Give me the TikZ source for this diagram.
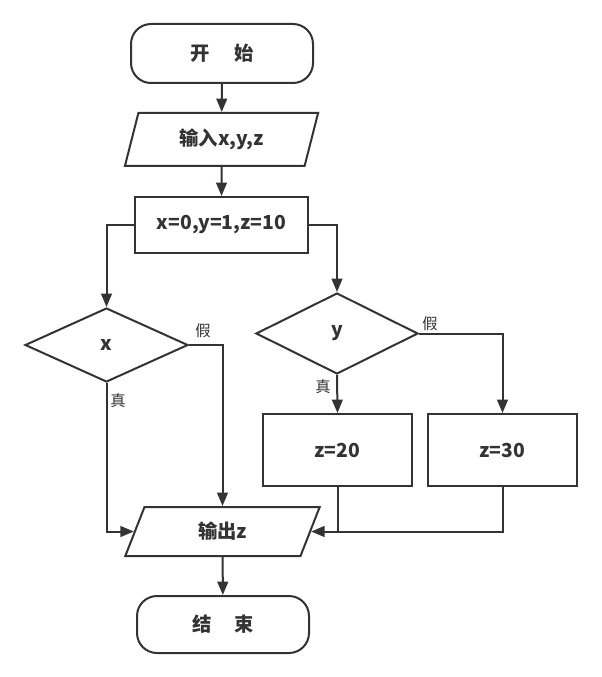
\documentclass[tikz,border=0pt]{standalone}
\usepackage{fontspec}
\setmainfont{Noto Sans CJK SC}
\usetikzlibrary{positioning,arrows.meta,shapes.geometric}
\definecolor{inkgray}{HTML}{333333}
\tikzset{
  flowarrow/.style={-{Triangle[length=10pt, width=8pt]}, line width=1.5pt, inkgray},
  flowline/.style={line width=1.5pt, inkgray},
  termnode/.style={draw=inkgray, line width=1.5pt, rounded corners=15pt, minimum width=136.5pt, minimum height=44.25pt, align=center, text=inkgray, font=\fontsize{14.5}{16}\selectfont\bfseries},
  ionode/.style={draw=inkgray, line width=1.5pt, trapezium, trapezium left angle=72, trapezium right angle=108, trapezium stretches=true, inner sep=0pt, minimum width=145pt, minimum height=39.75pt, align=center, text=inkgray, font=\fontsize{14.5}{16}\selectfont\bfseries},
  procnode/.style={draw=inkgray, line width=1.5pt, minimum width=111.75pt, minimum height=54pt, align=center, text=inkgray, font=\fontsize{14.5}{16}\selectfont\bfseries},
  decnode/.style={draw=inkgray, line width=1.5pt, diamond, inner sep=0pt, minimum width=122.25pt, minimum height=55.5pt, align=center, text=inkgray, font=\fontsize{14.5}{16}\selectfont\bfseries},
  branchlabel/.style={text=inkgray, inner sep=0pt, font=\fontsize{11.5}{12}\selectfont}
}
\begin{document}
\begin{tikzpicture}[x=0.75pt, y=-0.75pt]
  \useasboundingbox (0,0) rectangle (602,677);
  % main column
  \node[termnode] (start) at (222,53.5) {开\hspace{1.3em}始};
  \node[ionode] (input) at (221.5,139.5) {输入x,y,z};
  \node[procnode, minimum width=129.75pt, minimum height=42pt] (init) at (221.5,225) {x=0,y=1,z=10};
  \node[decnode] (dx) at (106.5,345) {x};
  \node[decnode, minimum width=121.5pt, minimum height=60.75pt] (dy) at (337,333.5) {y};
  \node[procnode] (z20) at (337.5,450) {z=20};
  \node[procnode] (z30) at (502.5,450) {z=30};
  \node[ionode, minimum width=146.25pt, minimum height=36.75pt] (output) at (222.5,531.5) {输出z};
  \node[termnode, minimum width=129pt, minimum height=42.75pt] (end) at (223,624.5) {结\hspace{1.2em}束};
  % branch labels
  \node[branchlabel] (xfalse) at (203,331) {假};
  \node[branchlabel] (xtrue) at (118,401) {真};
  \node[branchlabel] (yfalse) at (430,323.5) {假};
  \node[branchlabel] (ytrue) at (323,387) {真};
  % connectors
  \draw[flowarrow] (start) -- (input);
  \draw[flowarrow] (input) -- (init);
  \draw[flowarrow] (init.west) -| (dx.north);
  \draw[flowarrow] (init.east) -| (dy.north);
  \draw[flowarrow] (dx.east) -| (output.north);
  \draw[flowarrow] (dx.south) |- (output.west);
  \draw[flowarrow] (dy.south) -- (z20.north);
  \draw[flowarrow] (dy.east) -| (z30.north);
  \draw[flowline] (z20.south) -- (z20.south |- output.east);
  \draw[flowarrow] (z30.south) |- (output.east);
  \draw[flowarrow] (output) -- (end);
\end{tikzpicture}
\end{document}
